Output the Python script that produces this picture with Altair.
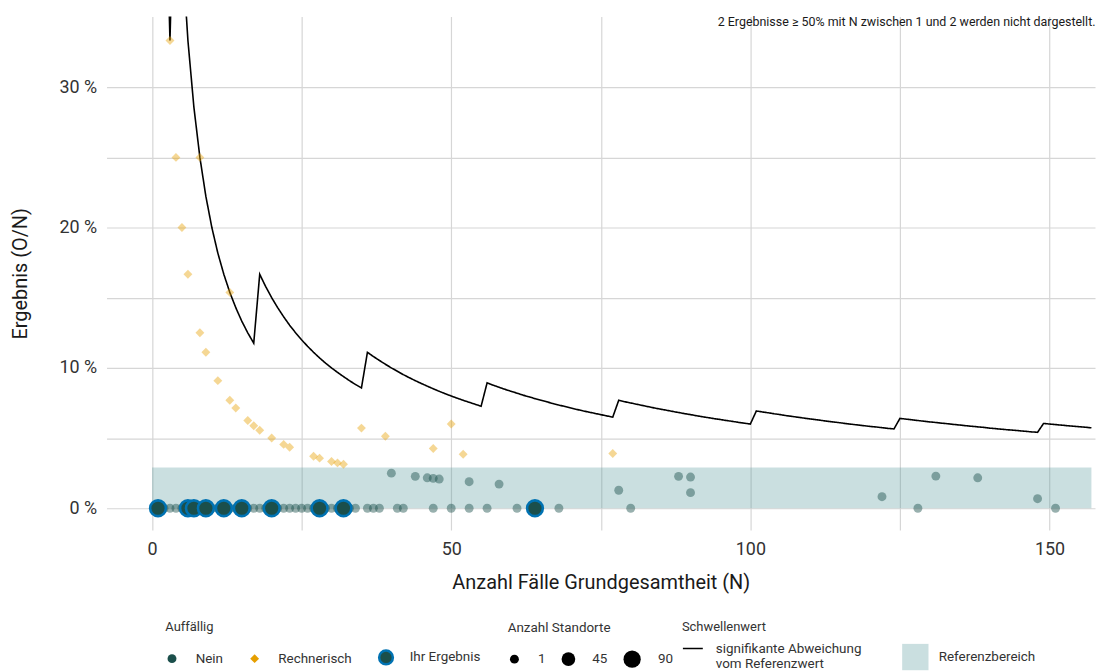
import altair as alt
import pandas as pd

FONT = "Roboto"

# ---- threshold line: significant deviation from reference value (O/N in %) per N
thr_n = list(range(1, 158))
thr_pct = [
    100.00, 50.00, 33.33,
    50.00, 40.00, 33.33, 28.57, 25.00, 22.22, 20.00, 18.18, 16.67, 15.38, 14.29, 13.33, 12.50, 11.76,
    16.67, 15.79, 15.00, 14.29, 13.64, 13.04, 12.50, 12.00, 11.54, 11.11, 10.71, 10.34, 10.00, 9.68,
    9.38, 9.09, 8.82, 8.57,
    11.11, 10.81, 10.53, 10.26, 10.00, 9.76, 9.52, 9.30, 9.09, 8.89, 8.70, 8.51, 8.33, 8.16, 8.00,
    7.84, 7.69, 7.55, 7.41, 7.27,
    8.93, 8.77, 8.62, 8.47, 8.33, 8.20, 8.06, 7.94, 7.81, 7.69, 7.58, 7.46, 7.35, 7.25, 7.14, 7.04,
    6.94, 6.85, 6.76, 6.67, 6.58, 6.49,
    7.69, 7.59, 7.50, 7.41, 7.32, 7.23, 7.14, 7.06, 6.98, 6.90, 6.82, 6.74, 6.67, 6.59, 6.52, 6.45,
    6.38, 6.32, 6.25, 6.19, 6.12, 6.06, 6.00,
    6.93, 6.86, 6.80, 6.73, 6.67, 6.60, 6.54, 6.48, 6.42, 6.36, 6.31, 6.25, 6.19, 6.14, 6.09, 6.03,
    5.98, 5.93, 5.88, 5.83, 5.79, 5.74, 5.69, 5.65,
    6.40, 6.35, 6.30, 6.25, 6.20, 6.15, 6.11, 6.06, 6.02, 5.97, 5.93, 5.88, 5.84, 5.80, 5.76, 5.71,
    5.67, 5.63, 5.59, 5.56, 5.52, 5.48, 5.44, 5.41,
    6.04, 6.00, 5.96, 5.92, 5.88, 5.84, 5.81, 5.77, 5.73,
]

# ---- reference range (Referenzbereich)
band_n = [0, 157]
band_pct = [0, 2.9]

# ---- sites: not conspicuous (Nein)
nein_n = [2, 3, 4, 5, 8, 10, 11, 13, 14, 16, 17, 18, 19, 21, 22, 23, 24, 25, 26, 27, 29, 30, 31,
          33, 34, 36, 37, 38, 41, 42, 47, 50, 53, 56, 61, 68, 80, 128, 151,
          40, 44, 46, 47, 48, 53, 58, 78, 88, 90, 90, 122, 131, 138, 148]
nein_pct = [0, 0, 0, 0, 0, 0, 0, 0, 0, 0, 0, 0, 0, 0, 0, 0, 0, 0, 0, 0, 0, 0, 0,
            0, 0, 0, 0, 0, 0, 0, 0, 0, 0, 0, 0, 0, 0, 0, 0,
            2.50, 2.27, 2.17, 2.13, 2.08, 1.89, 1.72, 1.28, 2.27, 2.22, 1.11, 0.82, 2.29, 2.17, 0.68]

# ---- sites: computationally conspicuous (Rechnerisch)
rech_n = [3, 4, 5, 6, 8, 8, 9, 11, 13, 13, 14, 16, 17, 18, 20, 22, 23, 27, 28, 30, 31, 32,
          35, 39, 47, 50, 52, 77]
rech_pct = [33.33, 25.00, 20.00, 16.67, 25.00, 12.50, 11.11, 9.09, 15.38, 7.69, 7.14, 6.25, 5.88,
            5.56, 5.00, 4.55, 4.35, 3.70, 3.57, 3.33, 3.23, 3.13, 5.71, 5.13, 4.26, 6.00, 3.85, 3.90]

# ---- your results (Ihr Ergebnis)
ihr_n = [1, 6, 7, 9, 12, 15, 20, 28, 32, 64]
ihr_pct = [0, 0, 0, 0, 0, 0, 0, 0, 0, 0]

categories = ["Nein", "Rechnerisch", "Ihr Ergebnis"]
size_breaks = [1, 45, 90]
note_text = "2 Ergebnisse \u2265 50% mit N zwischen 1 und 2 werden nicht dargestellt."
line_label = "signifikante Abweichung|vom Referenzwert"

# ---- tables
pts = pd.DataFrame({
    "n": nein_n + rech_n,
    "pct": nein_pct + rech_pct,
    "cat": ["Nein"] * len(nein_n) + ["Rechnerisch"] * len(rech_n),
    "sites": [1] * (len(nein_n) + len(rech_n)),
})
rings = pd.DataFrame({"n": ihr_n, "pct": ihr_pct, "cat": ["Ihr Ergebnis"] * len(ihr_n)})
thr = pd.DataFrame({"n": thr_n, "pct": thr_pct, "lab": [line_label] * len(thr_n)})
band = pd.DataFrame({"n0": [band_n[0]], "n1": [band_n[1]], "p0": [band_pct[0]], "p1": [band_pct[1]],
                     "lab": ["Referenzbereich"]})
note = pd.DataFrame({"note": [note_text]})

W, H = 993, 516
xscale = alt.Scale(domain=[-7.6, 157.6], nice=False, zero=False)
yscale = alt.Scale(domain=[-1.56, 35.04], nice=False, zero=False)

xaxis = alt.Axis(values=[0, 25, 50, 75, 100, 125, 150],
                 labelExpr="datum.value % 50 == 0 ? datum.label : ''",
                 title="Anzahl Fälle Grundgesamtheit (N)", ticks=False, domain=False,
                 labelPadding=10, titlePadding=15, labelOverlap=False, labelFlush=False)
yaxis = alt.Axis(values=[0, 5, 10, 15, 20, 25, 30],
                 labelExpr="datum.value % 10 == 0 ? datum.value + ' %' : ''",
                 title="Ergebnis (O/N)", ticks=False, domain=False,
                 labelPadding=10, titlePadding=29, labelOverlap=False, labelFlush=False)

X = lambda f: alt.X(f, type="quantitative", scale=xscale, axis=xaxis)
Y = lambda f: alt.Y(f, type="quantitative", scale=yscale, axis=yaxis)

LEG_Y = 607
auff_legend = alt.Legend(
    title="Auffällig", orient="none", legendX=59, legendY=LEG_Y, direction="horizontal",
    symbolOpacity=1, symbolStrokeWidth=2.5,
    symbolSize={"expr": "datum.value === 'Ihr Ergebnis' ? 190 : 80"},
    labelOffset=17, columnPadding=21, titlePadding=17,
)
fill_enc = alt.Fill("cat:N", scale=alt.Scale(domain=categories, range=["#1b4f4b", "#E69F00", "#1b4f4b"]),
                    legend=auff_legend)
shape_enc = alt.Shape("cat:N", scale=alt.Scale(domain=categories, range=["circle", "diamond", "circle"]),
                      legend=auff_legend)
stroke_enc = alt.Stroke("cat:N", scale=alt.Scale(domain=categories,
                                                 range=["transparent", "transparent", "#0072B2"]),
                        legend=auff_legend)

band_layer = alt.Chart(band).mark_rect(opacity=0.3).encode(
    x=X("n0"), x2="n1", y=Y("p0"), y2="p1",
    color=alt.Color("lab:N", scale=alt.Scale(domain=["Referenzbereich"], range=["#4e9498"]),
                    legend=alt.Legend(title=" ", orient="none", legendX=799, legendY=LEG_Y,
                                      symbolType="square", symbolSize=700, symbolOpacity=0.3,
                                      symbolStrokeWidth=0, labelOffset=10, titlePadding=10)),
)

line_layer = alt.Chart(thr).mark_line(color="black", strokeWidth=1.6, clip=True).encode(
    x=X("n"), y=Y("pct"),
    strokeDash=alt.StrokeDash("lab:N", scale=alt.Scale(domain=[line_label], range=[[1, 0]]),
                              legend=alt.Legend(title="Schwellenwert", orient="none", legendX=578,
                                                legendY=LEG_Y, symbolType="stroke", symbolSize=400,
                                                symbolStrokeColor="black", symbolStrokeWidth=1.5,
                                                labelOffset=12, titlePadding=4,
                                                labelExpr="split(datum.label, '|')")),
)

point_layer = alt.Chart(pts).mark_point(filled=True, strokeWidth=0).encode(
    x=X("n"), y=Y("pct"),
    fill=fill_enc, shape=shape_enc,
    size=alt.Size("sites:Q", scale=alt.Scale(domain=[1, 90], range=[80, 300]),
                  legend=alt.Legend(title="Anzahl Standorte", orient="none", legendX=403, legendY=LEG_Y,
                                    direction="horizontal", values=size_breaks, symbolFillColor="black",
                                    symbolStrokeWidth=0, symbolOpacity=1, labelOffset=17,
                                    columnPadding=15, titlePadding=16, titleFontSize=13.5)),
    opacity=alt.when(alt.datum.cat == "Rechnerisch").then(alt.value(0.42)).otherwise(alt.value(0.45)),
)

ring_layer = alt.Chart(rings).mark_point(filled=True, size=250, strokeWidth=2.6, opacity=1).encode(
    x=X("n"), y=Y("pct"), fill=fill_enc, shape=shape_enc, stroke=stroke_enc,
)

note_layer = alt.Chart(note).mark_text(align="right", baseline="middle", fontSize=12.5, font=FONT,
                                       color="#1a1a1a").encode(
    x=alt.value(W + 0.5), y=alt.value(6), text="note:N"
)

chart = alt.layer(band_layer, line_layer, point_layer, ring_layer, note_layer).properties(
    width=W, height=H,
    padding={"left": 99, "top": 7, "right": 1, "bottom": 140},
    autosize=alt.AutoSizeParams(type="none"),
).configure_view(stroke=None).configure_axis(
    labelFont=FONT, titleFont=FONT, labelFontSize=18, titleFontSize=20, labelColor="#333333",
    titleColor="#1a1a1a", titleFontWeight="normal", gridColor="#d6d6d6", gridWidth=1.2,
).configure_legend(
    labelFont=FONT, titleFont=FONT, labelFontSize=13.5, titleFontSize=13, titleFontWeight="normal",
    labelColor="#333333", titleColor="#333333", padding=0,
)

chart.save("out.html", embed_options={"renderer": "svg", "actions": False})
